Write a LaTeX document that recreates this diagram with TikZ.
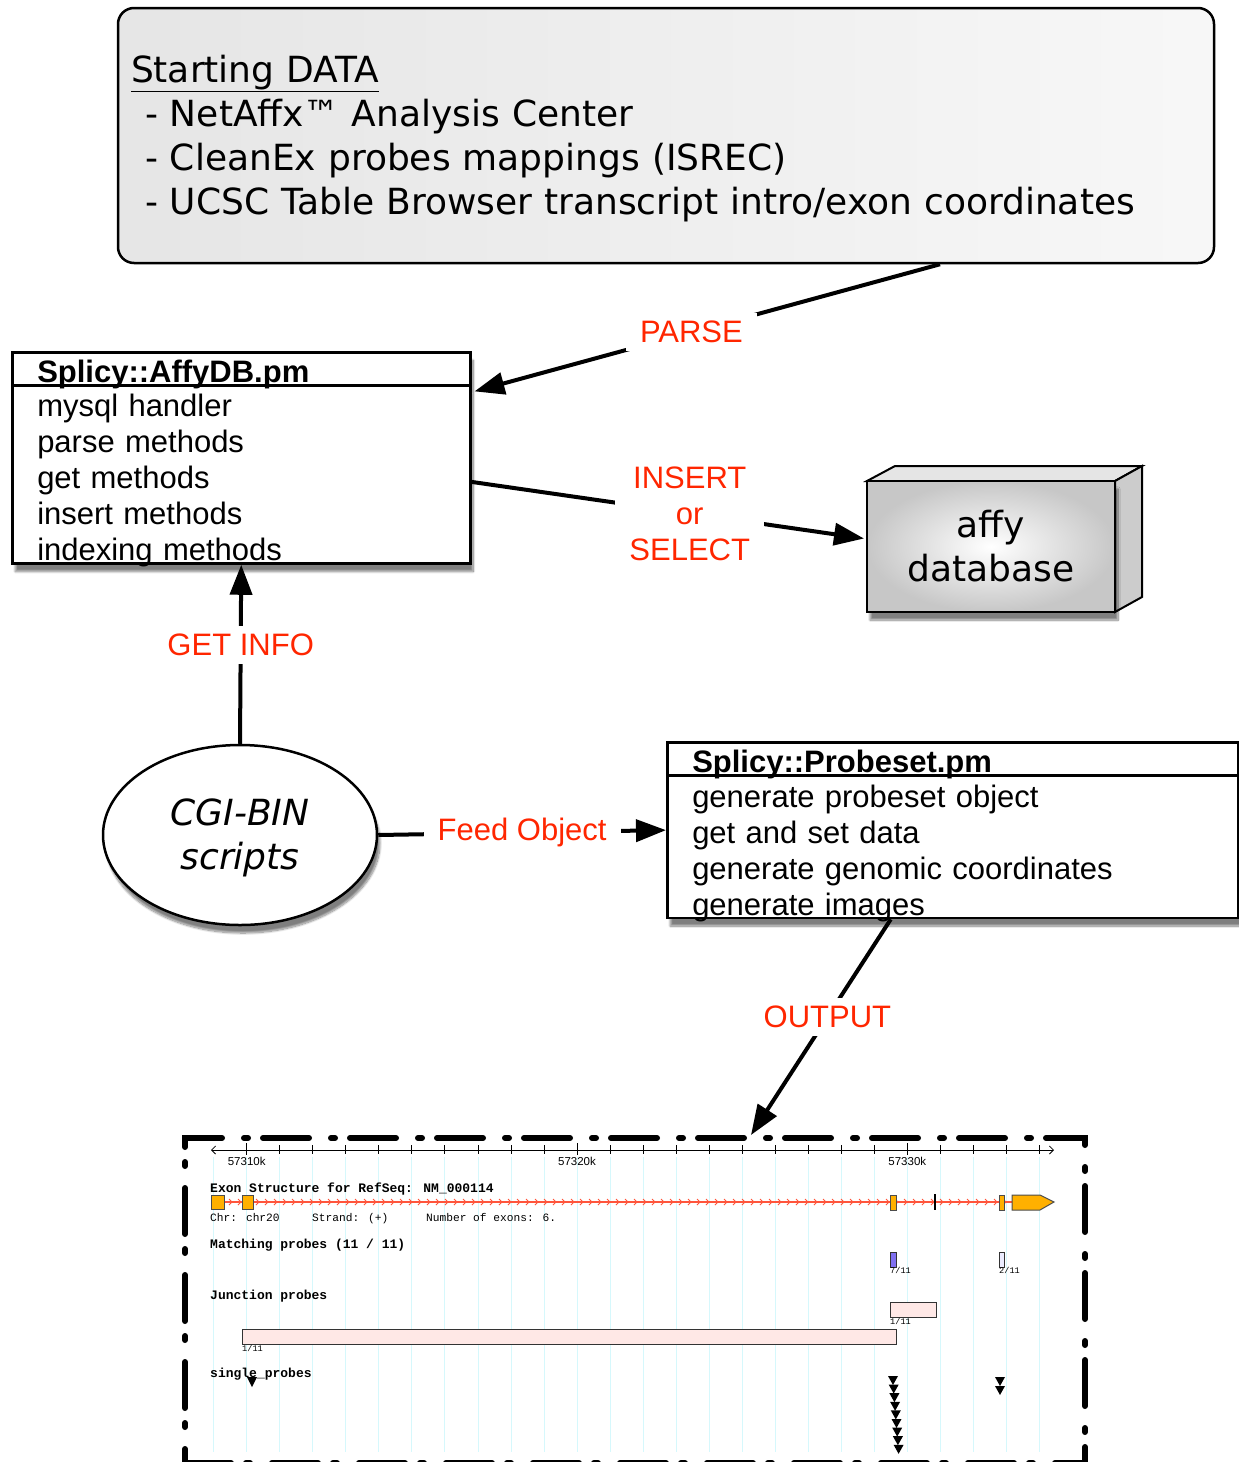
\documentclass[tikz,border=0pt]{standalone}
\usepackage{fontspec}
\setmainfont{Liberation Sans}
\newfontfamily\tahoma{DejaVu Sans}
\newfontfamily\browserfont{Liberation Mono}
\usepackage{tikz}
\usetikzlibrary{shapes,arrows.meta,positioning,calc,
  shadows.blur,
  shapes.multipart
}
\definecolor{flowred}{RGB}{255,38,0}
\definecolor{exonorange}{RGB}{255,176,0}
\definecolor{intronred}{RGB}{255,85,60}
\definecolor{gridcyan}{RGB}{214,248,252}
\definecolor{probeblue}{RGB}{128,112,240}
\definecolor{probelilac}{RGB}{236,236,255}
\definecolor{junctionpink}{RGB}{255,232,230}

\begin{document}
\begin{tikzpicture}[x=1pt, y=-1pt,
  shadowed/.style={blur shadow={shadow xshift=3pt, shadow yshift=-8pt,
    shadow blur steps=12, shadow opacity=50}},
  startbox/.style={draw, line width=2.5pt, rounded corners=16pt,
    left color=black!10, right color=black!3,
    minimum width=1096pt, minimum height=255pt,
    text width=1070pt, inner xsep=13pt, align=left,
    font=\tahoma\fontsize{36}{44}\selectfont},
  classbox/.style={draw, line width=2.5pt, fill=white, shadowed,
    rectangle split, rectangle split parts=2,
    text width=408pt, inner xsep=25pt, inner ysep=-4.8pt, align=left,
    font=\fontsize{31}{36}\selectfont},
  dbface/.style={draw, line width=2pt, shadowed,
    inner color=white, outer color=black!22,
    minimum width=248pt, minimum height=131pt, align=center,
    font=\tahoma\fontsize{36}{44}\selectfont},
  flow/.style={line width=4pt, -{Triangle[length=30pt,width=22pt]}},
  flowlabel/.style={fill=white, text=flowred, inner xsep=14pt, inner ysep=8pt,
    align=center, font=\fontsize{31}{36}\selectfont},
  exon/.style={draw=black!70, line width=1pt, fill=exonorange},
  probebox/.style={draw=black!80, line width=1pt},
  browsertext/.style={anchor=base west, inner sep=0pt,
    font=\browserfont\fontsize{11.2}{12}\selectfont},
  browserhead/.style={anchor=base west, inner sep=0pt,
    font=\browserfont\bfseries\fontsize{13}{13}\selectfont},
  probecount/.style={anchor=base west, inner sep=0pt,
    font=\browserfont\fontsize{8.6}{9}\selectfont}
  ]
  \useasboundingbox (0,0) rectangle (1239,1462);

  \node[startbox] (startdata) at (666,135.5) {\rule{0pt}{34pt}\underline{Starting DATA}\\
    \hspace*{14pt}- NetAffx™ Analysis Center\\
    \hspace*{14pt}- CleanEx probes mappings (ISREC)\\
    \hspace*{14pt}- UCSC Table Browser transcript intro/exon coordinates};

  \node[classbox, anchor=north west] (affydb) at (11,351)
    {\rule{0pt}{33.8pt}\textbf{Splicy::AffyDB.pm}
     \nodepart{second}\rule{0pt}{34.8pt}mysql handler\\
     parse methods\\get methods\\insert methods\\indexing methods};

  \draw[line width=2pt, fill=black!10] (867,481) -- ++(28,-15) -- ++(247,0)
    -- (1115,481) -- cycle;
  \draw[line width=2pt, fill=black!20] (1115,481) -- ++(27,-15) -- ++(0,131)
    -- (1115,612) -- cycle;
  \node[dbface] (db) at (991,546.5) {affy\\database};

  \node[ellipse, draw, line width=2.5pt, fill=white, shadowed,
    minimum width=274pt, minimum height=180pt, align=center,
    font=\tahoma\itshape\fontsize{36}{44}\selectfont] (cgi) at (240,835)
    {\rule{0pt}{32pt}CGI-BIN\\scripts};

  \node[classbox, text width=521pt, anchor=north west] (probeset) at (666,741)
    {\rule{0pt}{33.8pt}\textbf{Splicy::Probeset.pm}
     \nodepart{second}\rule{0pt}{35.3pt}generate probeset object\\
     get and set data\\generate genomic coordinates\\generate images};

  \node[draw, line width=6pt, line cap=round,
    dash pattern=on 46pt off 15pt on 4pt off 22pt,
    minimum width=900pt, minimum height=325pt, inner sep=0pt,
    anchor=north west] (browser) at (182,1135) {};

  % connectors
  \draw[flow] ($(startdata.south)+(274,0)$)
    -- node[flowlabel, pos=0.534] {PARSE} ($(affydb.text split east)+(3,6)$);
  \draw[flow] ($(affydb.east)+(0,24)$)
    -- node[flowlabel, pos=0.556] {INSERT\\or\\SELECT} ($(db.west)+(-2,-8)$);
  \draw[flow] (cgi.north) -- node[flowlabel, pos=0.55] {GET INFO} (affydb.south);
  \draw[flow] (cgi.east) -- node[flowlabel] {Feed Object} (probeset.west);
  \draw[flow] ($(probeset.south)+(-62,0)$)
    -- node[flowlabel, pos=0.453] {OUTPUT} ($(browser.north)+(116,0)$);

  % genome browser picture
  \foreach \i in {-1,...,24}
    \draw[gridcyan, line width=0.8pt] (246.7+33.03*\i,1157) -- (246.7+33.03*\i,1452);
  \draw[line width=0.8pt, {Straight Barb[length=4pt,width=8pt]}-{Straight Barb[length=4pt,width=8pt]}]
    (211,1150) -- (1054,1150);
  \foreach \i in {0,...,24}
    \draw[line width=0.8pt] (246.7+33.03*\i,1145) -- ++(0,9);
  \foreach \i/\t in {0/57310k,10/57320k,20/57330k}{
    \draw[line width=0.8pt] (246.7+33.03*\i,1143) -- ++(0,12);
    \node[anchor=base, inner sep=0pt, font=\fontsize{11.5}{12}\selectfont]
      (tick\i) at (246.7+33.03*\i,1165) {\t};
  }

  \draw[intronred, line width=1.2pt] (224,1202) -- (1012,1202);
  \foreach \x in {232,241,...,1008}
    \draw[intronred, line width=0.9pt] (\x-3,1199) -- (\x,1202) -- (\x-3,1205);
  \draw[exon] (211,1195) rectangle (224,1209);
  \draw[exon] (242,1195) rectangle (253,1209);
  \draw[exon] (890,1195) rectangle (896,1210);
  \draw[exon] (999,1195) rectangle (1004,1210);
  \draw[exon] (1012,1195) -- (1040,1195) -- (1054,1202) -- (1040,1210)
    -- (1012,1210) -- cycle;
  \draw[line width=2pt] (935,1194) -- (935,1210);

  \node[browserhead] (exonhead) at (210,1192) {Exon Structure for RefSeq: NM\_000114};
  \node[browsertext] (chrinfo) at (210,1221) {Chr: chr20};
  \node[browsertext] (strandinfo) at (312,1221) {Strand: (+)};
  \node[browsertext] (exoninfo) at (426,1221) {Number of exons: 6.};
  \node[browserhead] (matchhead) at (210,1248) {Matching probes (11 / 11)};
  \node[browserhead] (junctionhead) at (210,1299) {Junction probes};
  \node[browserhead] (singlehead) at (210,1377) {single\_probes};

  \draw[probebox, fill=probeblue] (890,1252) rectangle (896,1267);
  \draw[probebox, fill=probelilac] (999,1252) rectangle (1004,1267);
  \node[probecount] (countA) at (890,1273) {7/11};
  \node[probecount] (countB) at (999,1273) {2/11};
  \draw[probebox, fill=junctionpink] (890,1302) rectangle (936,1317);
  \draw[probebox, fill=junctionpink] (242,1329) rectangle (896,1344);
  \node[probecount] (countC) at (890,1324) {1/11};
  \node[probecount] (countD) at (242,1351) {1/11};

  \fill (247,1377) -- ++(10,0) -- ++(-5,10) -- cycle;
  \foreach \k in {0,...,8}
    \fill (888+0.7*\k,1376+8.6*\k) -- ++(10,0) -- ++(-5,9) -- cycle;
  \foreach \k in {0,1}
    \fill (995,1377+9*\k) -- ++(10,0) -- ++(-5,9) -- cycle;
\end{tikzpicture}
\end{document}
